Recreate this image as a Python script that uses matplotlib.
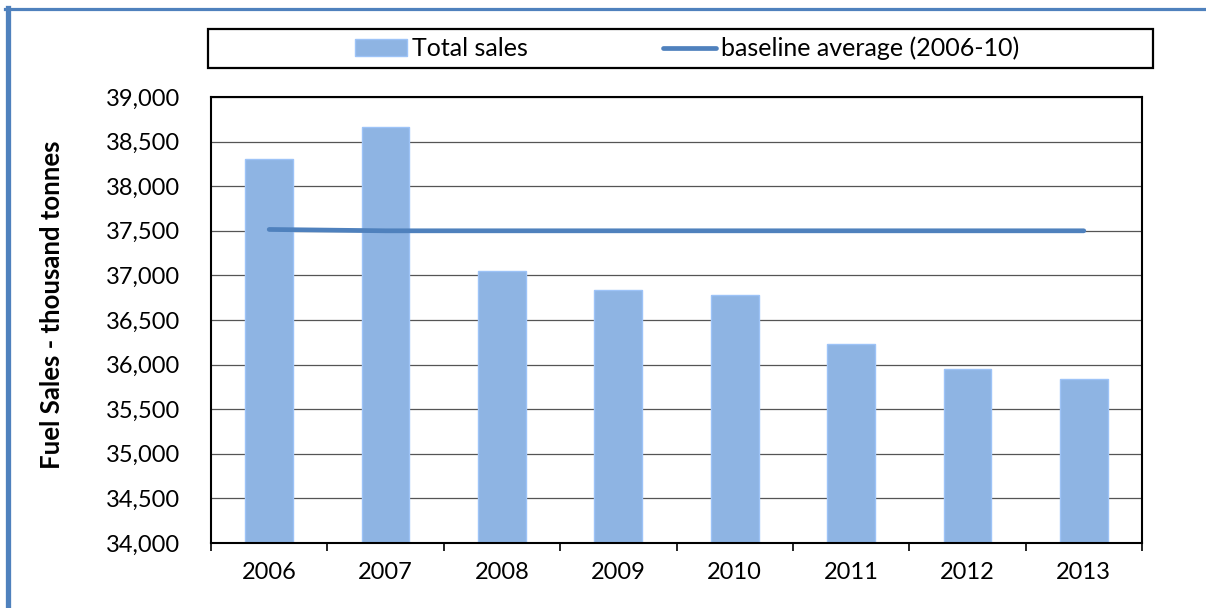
import matplotlib.pyplot as plt
from matplotlib.lines import Line2D
from matplotlib.patches import Rectangle
from matplotlib.ticker import FuncFormatter, MultipleLocator

years = ['2006', '2007', '2008', '2009', '2010', '2011', '2012', '2013']
total_sales = [38300, 38660, 37050, 36840, 36780, 36230, 35950, 35835]
baseline = [37515, 37500, 37500, 37500, 37500, 37500, 37500, 37500]

plt.rcParams['font.family'] = ['Lato', 'DejaVu Sans']

fig = plt.figure(figsize=(12.06, 6.08), dpi=100)
ax = fig.add_axes([211 / 1206, 65 / 608, 931 / 1206, 446 / 608])

x = range(len(years))
bars = ax.bar(x, total_sales, width=0.41, color='#8EB4E3', edgecolor='#9DC3F7',
              linewidth=1, zorder=2, label='Total sales')
line, = ax.plot(x, baseline, color='#4F81BD', lw=3.4, solid_capstyle='round',
                zorder=3, label='baseline average (2006-10)')

ax.set_ylim(34000, 39000)
ax.set_xlim(-0.5, len(years) - 0.5)
ax.yaxis.set_major_locator(MultipleLocator(500))
ax.yaxis.set_major_formatter(FuncFormatter(lambda v, p: f'{int(v):,}'))
ax.grid(axis='y', color='#555555', lw=0.9, zorder=1)
ax.tick_params(axis='y', length=0, pad=22, labelsize=17)

# category labels between boundary ticks
ax.set_xticks([i - 0.5 for i in range(len(years) + 1)])
ax.set_xticklabels([])
ax.tick_params(axis='x', which='major', length=6, width=1.2, direction='out')
ax.set_xticks(list(x), minor=True)
ax.set_xticklabels(years, minor=True)
ax.tick_params(axis='x', which='minor', length=0, pad=14, labelsize=17)

for s in ax.spines.values():
    s.set_linewidth(1.5)
    s.set_color('black')

ax.set_ylabel('Fuel Sales - thousand tonnes', fontsize=18.5, fontweight='bold')
ax.yaxis.set_label_coords(-0.158, 0.535)

# legend box
fig.patches.append(Rectangle((208 / 1206, 1 - 68 / 608), 945 / 1206, 39 / 608,
                             transform=fig.transFigure, fill=False,
                             edgecolor='black', lw=1.6))
fig.legend(handles=[bars, line], loc='center', bbox_to_anchor=(687 / 1206, 1 - 48.5 / 608),
           ncol=2, frameon=False, fontsize=18, handlelength=2.1, handleheight=0.7,
           handletextpad=0.2, columnspacing=5.4)

# blue border of the chart area
fig.add_artist(Line2D([7.5 / 1206, 7.5 / 1206], [0, 1 - 8 / 608], transform=fig.transFigure,
                      color='#4F81BD', lw=3.8))
fig.add_artist(Line2D([5 / 1206, 1], [1 - 9 / 608, 1 - 9 / 608], transform=fig.transFigure,
                      color='#4F81BD', lw=2.3))

fig.savefig('out.png', dpi=100)
